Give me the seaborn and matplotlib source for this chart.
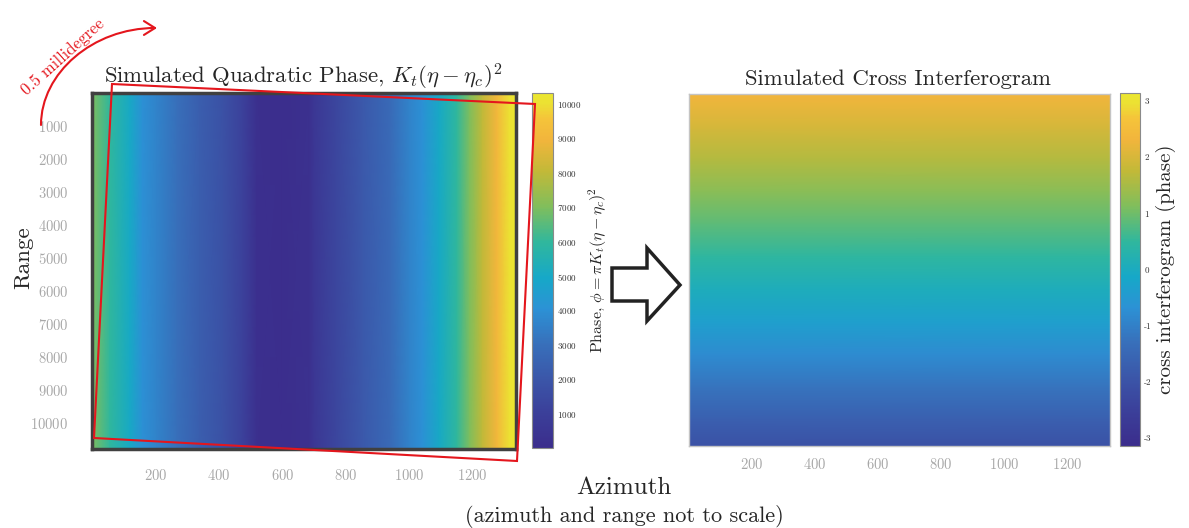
import numpy as np
import matplotlib
matplotlib.use("Agg")
import matplotlib.pyplot as plt
import seaborn as sns
from matplotlib.colors import LinearSegmentedColormap
from matplotlib.patches import Polygon, FancyArrowPatch
from matplotlib.path import Path

azimuth = [1, 57, 120, 160, 205, 270, 340, 415, 475, 520, 600, 685, 700, 770,
           855, 940, 1000, 1040, 1095, 1150, 1190, 1230, 1275, 1315, 1336]
quad_phase = [7000, 6000, 5000, 4000, 3600, 3000, 2300, 1800, 1100, 200, 100, 250, 600, 1300,
              2100, 2800, 3600, 4000, 5000, 6000, 7000, 8000, 9000, 10000, 10300]

range_bins = [0, 1000, 2000, 3000, 4000, 5000, 6000, 7000, 8000, 9000, 10000, 10790]
cross_phase = [2.33, 1.98, 1.60, 1.22, 0.84, 0.45, 0.05, -0.36, -0.80, -1.25, -1.70, -2.05]

az_ticks = [200, 400, 600, 800, 1000, 1200]
range_ticks = [1000, 2000, 3000, 4000, 5000, 6000, 7000, 8000, 9000, 10000]
phase_cb_ticks = [1000, 2000, 3000, 4000, 5000, 6000, 7000, 8000, 9000, 10000]
cross_cb_ticks = [-3, -2, -1, 0, 1, 2, 3]

# parula-like colours sampled from the colourbars
parula_pos = [0.0, 0.10, 0.19, 0.29, 0.39, 0.48, 0.58, 0.68, 0.78, 0.87, 0.93, 0.97, 1.0]
parula_hex = ["#3b2d8c", "#3b409a", "#3b55a8", "#386fba", "#2c91d5", "#16a8c8",
              "#30b79d", "#80be5c", "#c2b938", "#f2b53c", "#f5c43a", "#ece033", "#ebe72f"]
parula = LinearSegmentedColormap.from_list("parula", list(zip(parula_pos, parula_hex)))

sns.set_theme(style="ticks")
plt.rcParams["font.family"] = "cmr10"
plt.rcParams["mathtext.fontset"] = "cm"
plt.rcParams["axes.unicode_minus"] = False
plt.rcParams["axes.formatter.use_mathtext"] = True

W, H = 1189, 528
fig = plt.figure(figsize=(W / 100, H / 100), dpi=100)


def box(x0, y0, x1, y1):
    # pixel box (top-left origin) -> figure fraction rect
    return [x0 / W, 1 - y1 / H, (x1 - x0) / W, (y1 - y0) / H]


def fpt(x, y):
    return (x / W, 1 - y / H)


ax1 = fig.add_axes(box(92, 93, 516, 449))
cax1 = fig.add_axes(box(532, 93, 553, 448))
ax2 = fig.add_axes(box(689, 94, 1110, 446))
cax2 = fig.add_axes(box(1120, 93, 1140, 446))

# left panel
az = np.array(azimuth, dtype=float)
X1 = np.vstack([az, az])
Y1 = np.vstack([np.full_like(az, range_bins[0]), np.full_like(az, range_bins[-1])])
C1 = np.vstack([quad_phase, quad_phase]).astype(float)
m1 = ax1.pcolormesh(X1, Y1, C1, shading="gouraud", cmap=parula, vmin=0, vmax=10320)
ax1.set_xlim(azimuth[0], azimuth[-1])
ax1.set_ylim(range_bins[-1], range_bins[0])
ax1.set_xticks(az_ticks)
ax1.set_yticks(range_ticks)
for s in ax1.spines.values():
    s.set_linewidth(2.5)
    s.set_color("#404040")
ax1.tick_params(direction="in", length=4, width=1.8, color="#404040",
                top=True, right=True, labelsize=10.5, labelcolor="#a8a8a8")
ax1.tick_params(axis="y", pad=17)
ax1.tick_params(axis="x", pad=14)

cb1 = fig.colorbar(m1, cax=cax1, ticks=phase_cb_ticks)
cb1.outline.set_edgecolor("#8a8a8a")
cb1.outline.set_linewidth(0.8)
cax1.tick_params(direction="in", length=3, width=0.8, color="#555555",
                 labelsize=6.5, labelcolor="#333333", pad=3)
cb1.set_label(r"Phase, $\phi = \pi K_t(\eta - \eta_c)^2$", size=11.5, labelpad=4)

# right panel
rg = np.array(range_bins, dtype=float)
X2 = np.column_stack([np.full_like(rg, azimuth[0]), np.full_like(rg, azimuth[-1])])
Y2 = np.column_stack([rg, rg])
C2 = np.column_stack([cross_phase, cross_phase]).astype(float)
m2 = ax2.pcolormesh(X2, Y2, C2, shading="gouraud", cmap=parula, vmin=-np.pi, vmax=np.pi)
ax2.set_xlim(azimuth[0], azimuth[-1])
ax2.set_ylim(range_bins[-1], range_bins[0])
ax2.set_xticks(az_ticks)
ax2.set_yticks(range_ticks)
ax2.set_yticklabels([])
for s in ax2.spines.values():
    s.set_linewidth(1.0)
    s.set_color("#c4c4c4")
ax2.tick_params(direction="in", length=4, width=1.0, color="#666666",
                top=True, right=True, labelsize=10.5, labelcolor="#a8a8a8", pad=8)

cb2 = fig.colorbar(m2, cax=cax2, ticks=cross_cb_ticks)
cb2.set_ticklabels([str(t) for t in cross_cb_ticks])
cb2.outline.set_edgecolor("#8a8a8a")
cb2.outline.set_linewidth(0.8)
cax2.tick_params(direction="in", length=3, width=0.8, color="#555555",
                 labelsize=6.5, labelcolor="#333333", pad=3)
cb2.set_label("cross interferogram (phase)", size=15, labelpad=3)

# titles and shared labels
fig.text(*fpt(303, 83), r"Simulated Quadratic Phase, $K_t(\eta - \eta_c)^2$",
         ha="center", va="baseline", size=16.4)
fig.text(*fpt(898, 85), "Simulated Cross Interferogram", ha="center", va="baseline", size=16.4)
fig.text(*fpt(23, 258), "Range", rotation=90, ha="center", va="center", size=16.5)
fig.text(*fpt(624, 488), "Azimuth", ha="center", va="center", size=18)
fig.text(*fpt(624, 517), "(azimuth and range not to scale)", ha="center", va="center", size=16)

# red rotated frame and rotation arrow
red = "#e4161d"
frame = [fpt(112, 84), fpt(535, 104), fpt(517, 461), fpt(94, 438)]
fig.patches.append(Polygon(frame, closed=True, fill=False, ec=red, lw=1.5,
                           transform=fig.transFigure))
arc = Path([fpt(41, 125), fpt(41, 73), fpt(93, 28), fpt(157, 28)],
           [Path.MOVETO, Path.CURVE4, Path.CURVE4, Path.CURVE4])
fig.patches.append(FancyArrowPatch(path=arc, transform=fig.transFigure,
                                   arrowstyle="->,head_length=8,head_width=5",
                                   color=red, lw=1.5))
fig.text(*fpt(63, 57), "0.5 millidegree", rotation=42, ha="center", va="center",
         size=12, color=red)

# hollow block arrow between panels
block = [fpt(612, 268), fpt(647, 268), fpt(647, 248), fpt(680, 285),
         fpt(647, 321), fpt(647, 301), fpt(612, 301)]
fig.patches.append(Polygon(block, closed=True, fc="white", ec="#222222", lw=2.5,
                           joinstyle="miter", transform=fig.transFigure))

fig.savefig("out.png", dpi=100)
